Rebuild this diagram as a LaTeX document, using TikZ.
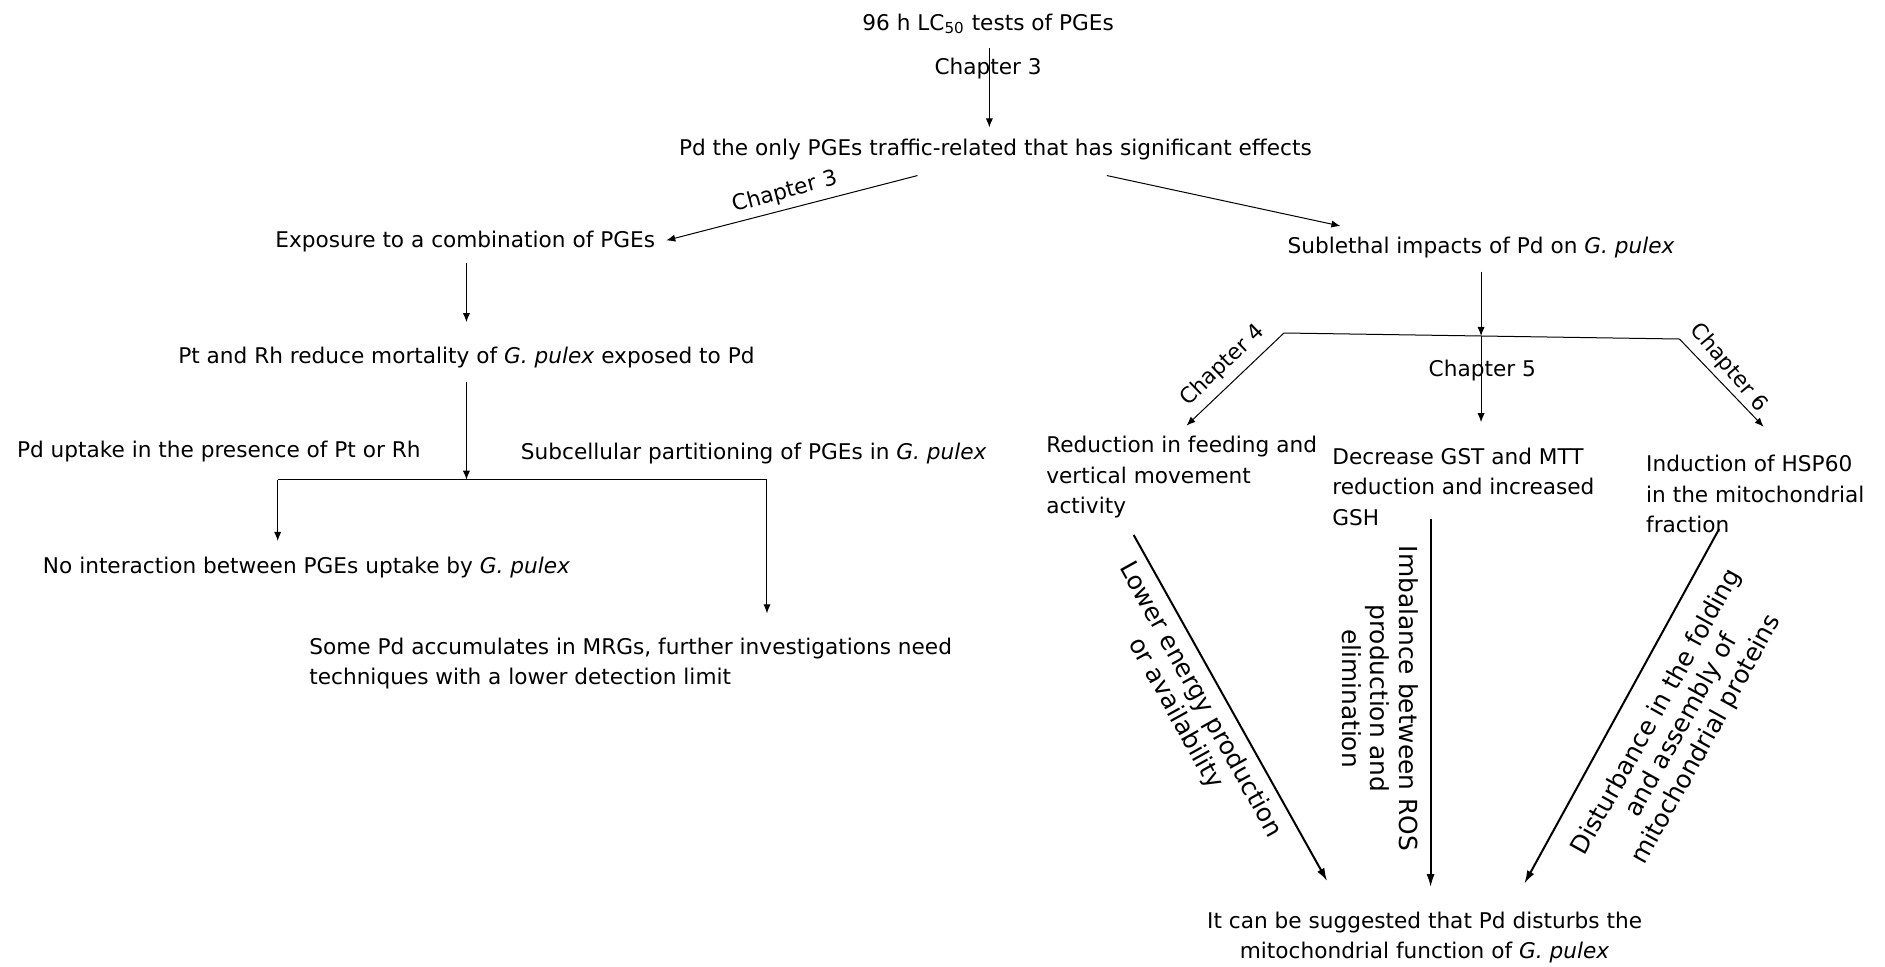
\documentclass[tikz,border=0pt]{standalone}
\usepackage{fontspec}
\setmainfont{DejaVu Sans}
\usetikzlibrary{arrows.meta,calc}
\begin{document}
\begin{tikzpicture}[x=0.6pt,y=-0.6pt,
  txt/.style={font=\fontsize{10.8}{15.3}\selectfont, inner sep=0pt},
  rtxt/.style={font=\fontsize{12.4}{14.2}\selectfont, inner sep=0pt, align=center},
  arr/.style={line width=0.5pt, -{Latex[length=4.5pt,width=3.6pt]}},
  ln/.style={line width=0.5pt},
  barr/.style={line width=1pt, -{Latex[length=6.5pt,width=4pt]}}]
\useasboundingbox (0,0) rectangle (1568,804);

% main texts
\node[txt] (t1) at (822,20) {96 h LC\textsubscript{50} tests of PGEs};
\node[txt] (c3a) at (822,57) {Chapter 3};
\node[txt] (t2) at (828,124) {Pd the only PGEs traffic-related that has significant effects};
\node[txt] (t3) at (387,201) {Exposure to a combination of PGEs};
\node[txt] (t4) at (1232,206) {Sublethal impacts of Pd on \textit{G. pulex}};
\node[txt] (t5) at (388,297) {Pt and Rh reduce mortality of \textit{G. pulex} exposed to Pd};
\node[txt] (t6) at (182,376) {Pd uptake in the presence of Pt or Rh};
\node[txt] (t7) at (627,377) {Subcellular partitioning of PGEs in \textit{G. pulex}};
\node[txt] (t8) at (255,472) {No interaction between PGEs uptake by \textit{G. pulex}};
\node[txt, align=left, anchor=west] (t9) at (257,552) {Some Pd accumulates in MRGs, further investigations need\\techniques with a lower detection limit};
\node[txt, align=left, anchor=west] (t10) at (870,397) {Reduction in feeding and\\vertical movement\\activity};
\node[txt, align=left, anchor=west] (t11) at (1108,405) {Decrease GST and MTT\\reduction and increased\\GSH};
\node[txt, align=left, anchor=west] (t12) at (1369,411) {Induction of HSP60\\in the mitochondrial\\fraction};
\node[txt, align=center] (t13) at (1185,780) {It can be suggested that Pd disturbs the\\mitochondrial function of \textit{G. pulex}};

% labels
\node[txt, rotate=15] (c3b) at (653,160) {Chapter 3};
\node[txt, rotate=44] (c4) at (1017,304) {Chapter 4};
\node[txt] (c5) at (1233,308) {Chapter 5};
\node[txt, rotate=-50] (c6) at (1438,306) {Chapter 6};
\node[rtxt, rotate=-61] (lab1) at (988,588) {Lower energy production\\or availability};
\node[rtxt, rotate=-90] (lab2) at (1148,581) {Imbalance between ROS\\production and\\elimination};
\node[rtxt, rotate=61] (lab3) at (1399,604) {Disturbance in the folding\\and assembly of\\mitochondrial proteins};

% junction coordinates
\coordinate (j1) at (388,399);
\coordinate (jl) at (231,399);
\coordinate (jr) at (638,399);
\coordinate (j2) at (1232,279.5);
\coordinate (jL) at (1068,277);
\coordinate (jR) at (1397,282);
\coordinate (p4) at (987,354);
\coordinate (p6) at (1467,355);
\coordinate (pr) at (1115,188);
\coordinate (s1) at (943,445);
\coordinate (e1) at (1104,733);
\coordinate (s2) at (1190,432);
\coordinate (e2) at (1190,738);
\coordinate (s3) at (1430,440);
\coordinate (e3) at (1268,735);

% connectors
\draw[arr] ($(t1.south)+(1,11)$) -- ($(t2.north)+(-5,-9)$);
\draw[arr] ($(t2.south west)!0.377!(t2.south east)+(0,13)$) -- ($(t3.east)+(9,-1)$);
\draw[arr] ($(t2.south west)!0.676!(t2.south east)+(0,13)$) -- (pr);
\draw[arr] ($(t3.south)+(1,9)$) -- ($(t5.north)+(0,-20)$);
\draw[arr] ($(t5.south)+(0,12)$) -- (j1);
\draw[ln] (jl) -- (jr);
\draw[arr, shorten >=7.8pt] (jl) -- (jl |- t8.north);
\draw[arr, shorten >=12pt] (jr) -- (jr |- t9.north);
\draw[arr] ($(t4.south)+(0,11)$) -- (j2);
\draw[ln] (jL) -- (jR);
\draw[arr] (jL) -- (p4);
\draw[arr, shorten >=12.6pt] (j2) -- (j2 |- t11.north);
\draw[arr] (jR) -- (p6);
\draw[barr] (s1) -- (e1);
\draw[barr] (s2) -- (e2);
\draw[barr] (s3) -- (e3);
\end{tikzpicture}
\end{document}
